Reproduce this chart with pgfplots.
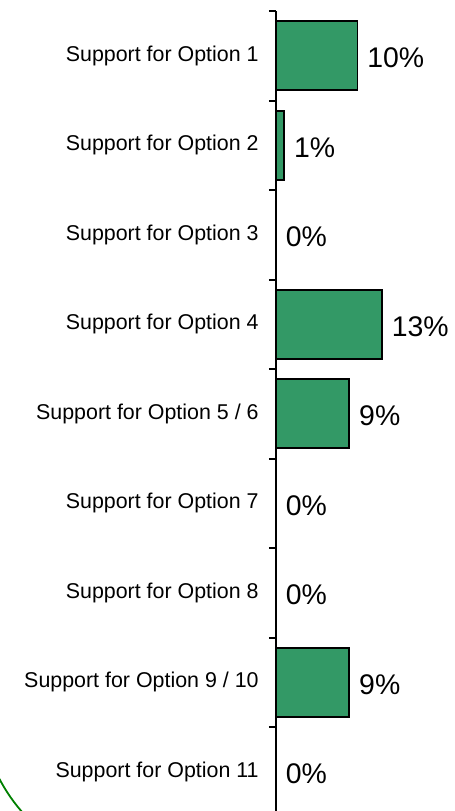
\documentclass[border=0pt]{standalone}
\usepackage{pgfplots}
\pgfplotsset{compat=1.18}
\usepackage{fontspec}
\setmainfont{Liberation Sans}
\definecolor{bargreen}{HTML}{339966}
\definecolor{arcgreen}{HTML}{008000}

\begin{document}
\begin{tikzpicture}
\begin{axis}[
  xbar,
  scale only axis,
  width=89.65pt, height=402.75pt,
  xmin=0, xmax=22,
  ymin=-0.5, ymax=8.5,
  y dir=reverse,
  axis x line=none,
  axis y line=left,
  axis line style={-, line width=1pt, black},
  ytick={0,...,8},
  yticklabels={Support for Option 1,Support for Option 2,Support for Option 3,Support for Option 4,Support for Option 5 / 6,Support for Option 7,Support for Option 8,Support for Option 9 / 10,Support for Option 11},
  yticklabel style={font=\fontsize{10.7}{12}\selectfont, inner sep=0pt, xshift=-8.5pt},
  major tick length=0pt,
  minor ytick={-0.5,0.5,...,8.5},
  minor tick length=3.5pt,
  tick align=outside,
  tick style={black, line width=1pt},
  minor tick style={black, line width=1pt},
  bar width=34.5pt,
  clip=false,
  /pgf/number format/assume math mode=true,
  nodes near coords={\pgfmathprintnumber{\pgfplotspointmeta}\%},
  nodes near coords style={font=\fontsize{14.2}{16}\selectfont, anchor=west, inner sep=0pt, xshift=4.5pt, yshift=-1pt, black},
]
\addplot[fill=bargreen, draw=black, line width=0.9pt] coordinates {
  (10,0) (1,1) (0,2) (13,3) (9,4) (0,5) (0,6) (9,7) (0,8)
};
\coordinate (O) at (axis cs:0,-0.5);
\end{axis}
\draw[arcgreen, line width=0.9pt] (O) ++(-63pt,-344.5pt) ++(200:85pt) arc[start angle=200, end angle=230, radius=85pt];
\pgfresetboundingbox
\path (O) ++(-138pt,5.5pt) rectangle ++(227.5pt,-405.5pt);
\end{tikzpicture}
\end{document}
